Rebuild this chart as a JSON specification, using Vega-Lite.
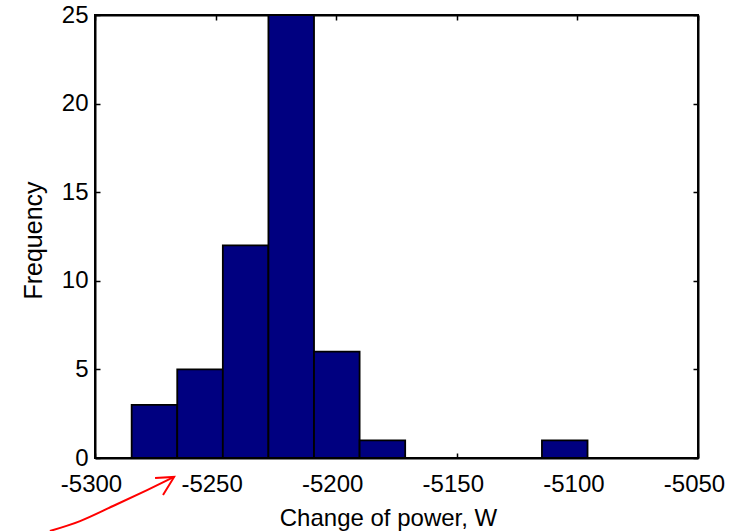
{
  "$schema": "https://vega.github.io/schema/vega-lite/v6.json",
  "width": 603,
  "height": 443,
  "autosize": {"type": "none"},
  "padding": {"left": 95, "top": 15, "right": 31, "bottom": 73},
  "background": "white",
  "config": {
    "view": {"stroke": "black", "strokeWidth": 2},
    "font": "Liberation Sans",
    "axis": {
      "labelFont": "Liberation Sans",
      "titleFont": "Liberation Sans",
      "labelFontSize": 24,
      "titleFontSize": 24,
      "titleFontWeight": "normal",
      "labelColor": "black",
      "titleColor": "black",
      "domainColor": "black",
      "domainWidth": 2,
      "tickColor": "black",
      "tickWidth": 1.5,
      "tickSize": -5,
      "grid": false
    }
  },
  "datasets": {
    "bins": [
      {"start": -5284.8, "end": -5265.9, "count": 3},
      {"start": -5265.9, "end": -5247.0, "count": 5},
      {"start": -5247.0, "end": -5228.1, "count": 12},
      {"start": -5228.1, "end": -5209.2, "count": 25},
      {"start": -5209.2, "end": -5190.3, "count": 6},
      {"start": -5190.3, "end": -5171.4, "count": 1},
      {"start": -5171.4, "end": -5152.5, "count": 0},
      {"start": -5152.5, "end": -5133.6, "count": 0},
      {"start": -5133.6, "end": -5114.7, "count": 0},
      {"start": -5114.7, "end": -5095.8, "count": 1}
    ],
    "arrow": [
      {"ax": -5318.7, "ay": -4.12, "k": 0},
      {"ax": -5306.2, "ay": -3.56, "k": 1},
      {"ax": -5292.5, "ay": -2.71, "k": 2},
      {"ax": -5278.4, "ay": -1.81, "k": 3},
      {"ax": -5267.2, "ay": -1.07, "k": 4}
    ],
    "head": [
      {"ax": -5275.1, "ay": -1.13, "k": 0},
      {"ax": -5267.2, "ay": -1.07, "k": 1},
      {"ax": -5271.8, "ay": -2.09, "k": 2}
    ]
  },
  "layer": [
    {
      "data": {"name": "bins"},
      "mark": {"type": "rect", "fill": "#000080", "stroke": "black", "strokeWidth": 1.8},
      "encoding": {
        "x": {"field": "start", "type": "quantitative",
              "scale": {"domain": [-5300, -5050], "nice": false, "zero": false},
              "axis": {"values": [-5300, -5250, -5200, -5150, -5100, -5050], "labelExpr": "'' + datum.value", "title": "Change of power, W", "labelPadding": 19, "labelOffset": -4, "titlePadding": 10, "titleX": 293, "labelFlush": false}},
        "x2": {"field": "end"},
        "y": {"field": "count", "type": "quantitative",
              "scale": {"domain": [0, 25], "nice": false},
              "axis": {"values": [0, 5, 10, 15, 20, 25], "title": "Frequency", "titleFontSize": 25, "labelPadding": 12, "titlePadding": 15, "titleY": 225, "labelFlush": false}},
        "y2": {"datum": 0}
      }
    },
    {
      "data": {"name": "bins"},
      "mark": {"type": "rect", "opacity": 0},
      "encoding": {
        "x": {"field": "start", "type": "quantitative",
              "axis": {"orient": "top", "values": [-5300, -5250, -5200, -5150, -5100, -5050], "labels": false, "title": null}},
        "x2": {"field": "end"},
        "y": {"field": "count", "type": "quantitative",
              "axis": {"orient": "right", "values": [0, 5, 10, 15, 20, 25], "labels": false, "title": null}},
        "y2": {"datum": 0}
      }
    },
    {
      "data": {"name": "arrow"},
      "mark": {"type": "line", "color": "red", "strokeWidth": 2, "clip": false, "interpolate": "monotone"},
      "encoding": {
        "x": {"field": "ax", "type": "quantitative", "axis": null},
        "y": {"field": "ay", "type": "quantitative", "axis": null},
        "order": {"field": "k"}
      }
    },
    {
      "data": {"name": "head"},
      "mark": {"type": "line", "color": "red", "strokeWidth": 2, "clip": false},
      "encoding": {
        "x": {"field": "ax", "type": "quantitative", "axis": null},
        "y": {"field": "ay", "type": "quantitative", "axis": null},
        "order": {"field": "k"}
      }
    }
  ],
  "resolve": {"axis": {"x": "independent", "y": "independent"}}
}
